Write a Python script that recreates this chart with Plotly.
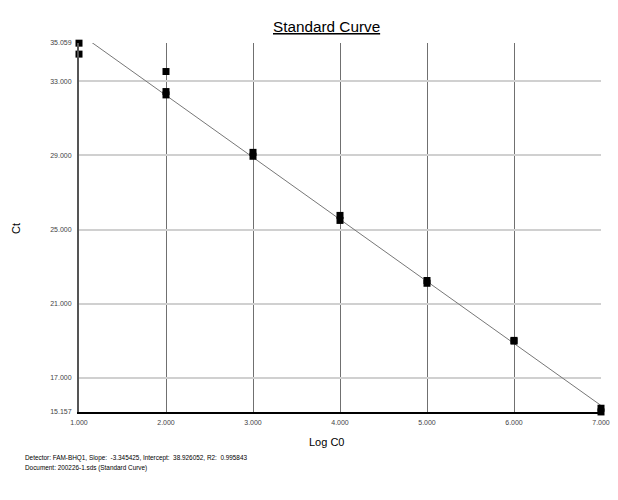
import plotly.graph_objects as go

log_c0 = [1, 1, 2, 2, 2, 3, 3, 4, 4, 5, 5, 6, 6, 7, 7]
ct = [35.05, 34.46, 33.52, 32.44, 32.26, 29.16, 28.95, 25.76, 25.49, 22.25, 22.10, 19.02, 18.98, 15.36, 15.16]
slope = -3.345425
intercept = 38.926052
r2 = 0.995843
fit_x = [1, 7]
fit_y = [intercept + slope * v for v in fit_x]
x_ticks = [1, 2, 3, 4, 5, 6, 7]
y_ticks = [15.157, 17.0, 21.0, 25.0, 29.0, 33.0, 35.059]
y_range = [15.157, 35.059]

# page body has an 8px default margin; figure sized to fit inside it
OFF = 8
W, H = 618 - 2 * OFF, 500 - 2 * OFF
PL, PR, PT, PB = 79, 601, 43, 412  # plot area in page pixels
L, R, T, B = PL - OFF, OFF + W - PR, PT - OFF, OFF + H - PB
pw, ph = PR - PL, PB - PT

def px(x):
    return (x - PL) / pw

def py(y):
    return (PB - y) / ph

fig = go.Figure()
fig.add_trace(go.Scatter(x=fit_x, y=fit_y, mode="lines",
                         line=dict(color="#777777", width=1), hoverinfo="skip"))
fig.add_trace(go.Scatter(x=log_c0, y=ct, mode="markers", cliponaxis=False,
                         marker=dict(symbol="square", size=7, color="black")))

font = "Liberation Sans, Arial, sans-serif"
fig.update_layout(
    width=W, height=H, autosize=False,
    margin=dict(l=L, r=R, t=T, b=B, pad=0),
    paper_bgcolor="white", plot_bgcolor="white",
    showlegend=False,
    font=dict(family=font, color="black"),
    xaxis=dict(range=[1, 7], tickvals=x_ticks, ticktext=[f"{v:.3f}" for v in x_ticks],
               showgrid=True, gridcolor="#707070", gridwidth=1,
               showline=True, linecolor="black", linewidth=2,
               zeroline=False, ticks="", automargin=False, ticklabelstandoff=3,
               tickfont=dict(size=7, color="#444444")),
    yaxis=dict(range=y_range, tickvals=y_ticks, ticktext=[f"{v:.3f}" for v in y_ticks],
               showgrid=True, gridcolor="#d0d0d0", gridwidth=1.5,
               showline=True, linecolor="#555555", linewidth=2,
               zeroline=False, ticks="", automargin=False, ticklabelstandoff=4,
               tickfont=dict(size=7, color="#444444")),
)

anns = [
    dict(text="<u>Standard Curve</u>", x=px(326), y=py(26), font=dict(size=15.3)),
    dict(text="Log C0", x=px(326), y=py(442), font=dict(size=11)),
    dict(text="Ct", x=px(16), y=py(229), font=dict(size=11), textangle=-90),
    dict(text=f"Detector: FAM-BHQ1, Slope:  {slope:.6f}, Intercept:  {intercept:.6f}, R2:  {r2:.6f}",
         x=px(23), y=py(458), xanchor="left", font=dict(size=6.4)),
    dict(text="Document: 200226-1.sds (Standard Curve)",
         x=px(23), y=py(468), xanchor="left", font=dict(size=6.4)),
]
for a in anns:
    a.setdefault("xanchor", "center")
    fig.add_annotation(xref="paper", yref="paper", showarrow=False, yanchor="middle", **a)

fig.write_html("out.html")
